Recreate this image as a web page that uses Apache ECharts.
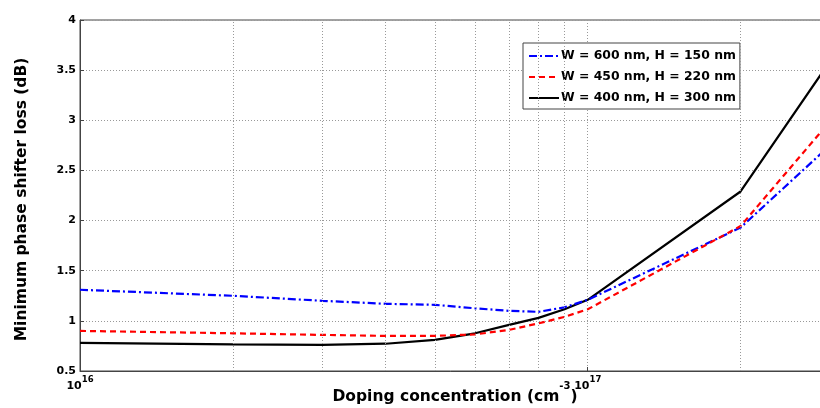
<!DOCTYPE html>
<html>
<head>
<meta charset="utf-8">
<script src="https://cdn.jsdelivr.net/npm/echarts@6/dist/echarts.min.js"></script>
<style>
  html, body { margin: 0; padding: 0; background: #fff; overflow: hidden; }
  #chart { width: 820px; height: 408px; }
</style>
</head>
<body>
<div id="chart"></div>
<script>
// doping concentration (cm^-3)
const doping = [1e16, 2e16, 3e16, 4e16, 5e16, 6e16, 7e16, 8e16, 9e16, 1e17, 2e17, 3e17]
// minimum phase shifter loss (dB)
const lossW600 = [1.31, 1.25, 1.20, 1.17, 1.16, 1.125, 1.10, 1.09, 1.135, 1.21, 1.93, 2.75]
const lossW450 = [0.90, 0.876, 0.86, 0.85, 0.85, 0.865, 0.91, 0.975, 1.04, 1.115, 1.945, 2.99]
const lossW400 = [0.78, 0.766, 0.76, 0.772, 0.81, 0.876, 0.96, 1.03, 1.115, 1.21, 2.29, 3.59]
const seriesNames = ['W = 600 nm, H = 150 nm', 'W = 450 nm, H = 220 nm', 'W = 400 nm, H = 300 nm']
// minor log grid lines
const minorTicks = [2e16, 3e16, 4e16, 5e16, 6e16, 7e16, 8e16, 9e16, 2e17, 3e17]

const font = '"DejaVu Sans", Arial, sans-serif'
const pair = ys => doping.map((x, i) => [x, ys[i]])
const gridLine = { color: '#999', width: 1, type: [1, 2] }

const chart = echarts.init(document.getElementById('chart'))
chart.setOption({
  animation: false,
  grid: {
    left: 80, top: 20, right: -10, bottom: 37,
    outerBoundsMode: 'none',
    containLabel: false,
    show: true, borderColor: '#444', borderWidth: 1
  },
  legend: {
    orient: 'vertical',
    left: 523, top: 43,
    backgroundColor: '#fff',
    borderColor: '#444', borderWidth: 1,
    padding: [6, 4, 4, 5],
    itemGap: 7,
    itemWidth: 30, itemHeight: 14,
    itemStyle: { opacity: 0 },
    textStyle: {
      fontFamily: font, fontWeight: 'bold', fontSize: 12.4, color: '#000',
      lineHeight: 14, padding: [0, 0, 0, -3]
    },
    data: seriesNames
  },
  xAxis: {
    type: 'log', logBase: 10,
    min: 1e16, max: 3e17,
    name: '{t|Doping concentration (cm}{s|-3}{t|)}',
    nameLocation: 'middle',
    nameMoveOverlap: false,
    nameGap: 10,
    nameTextStyle: {
      rich: {
        t: { fontFamily: font, fontWeight: 'bold', fontSize: 15.5, color: '#000', lineHeight: 24, verticalAlign: 'bottom' },
        s: { fontFamily: font, fontWeight: 'bold', fontSize: 10, color: '#000', lineHeight: 14, verticalAlign: 'top' }
      }
    },
    axisLine: { lineStyle: { color: '#444' } },
    axisTick: { inside: true, length: 4, lineStyle: { color: '#444' } },
    splitLine: { show: true, lineStyle: gridLine },
    axisLabel: {
      margin: 4,
      showMaxLabel: false,
      formatter: v => '{b|10}{s|' + Math.round(Math.log10(v)) + '}',
      rich: {
        b: { fontFamily: font, fontWeight: 'bold', fontSize: 11, color: '#000', lineHeight: 17, verticalAlign: 'bottom' },
        s: { fontFamily: font, fontWeight: 'bold', fontSize: 8.5, color: '#000', lineHeight: 9, verticalAlign: 'top' }
      }
    }
  },
  yAxis: {
    type: 'value',
    min: 0.5, max: 4, interval: 0.5,
    name: 'Minimum phase shifter loss (dB)',
    nameLocation: 'middle',
    nameMoveOverlap: false,
    nameGap: 50,
    nameTextStyle: { fontFamily: font, fontWeight: 'bold', fontSize: 15.5, color: '#000', padding: [0, 8, 0, 0] },
    axisLine: { show: true, lineStyle: { color: '#444' } },
    axisTick: { show: true, inside: true, length: 4, lineStyle: { color: '#444' } },
    splitLine: { show: true, lineStyle: gridLine },
    axisLabel: { fontFamily: font, fontWeight: 'bold', fontSize: 11, color: '#000', margin: 4 }
  },
  series: [
    {
      name: seriesNames[0], type: 'line', data: pair(lossW600),
      symbol: 'none', color: '#0000ff', z: 3,
      lineStyle: { width: 2.2, color: '#0000ff', type: [8, 3, 2, 3] },
      markLine: {
        silent: true, symbol: 'none', label: { show: false },
        lineStyle: gridLine,
        data: minorTicks.map(v => ({ xAxis: v }))
      }
    },
    {
      name: seriesNames[1], type: 'line', data: pair(lossW450),
      symbol: 'none', color: '#ff0000', z: 4,
      lineStyle: { width: 2.2, color: '#ff0000', type: [6, 4] }
    },
    {
      name: seriesNames[2], type: 'line', data: pair(lossW400),
      symbol: 'none', color: '#000', z: 2,
      lineStyle: { width: 2.2, color: '#000' }
    }
  ]
})
</script>
</body>
</html>
